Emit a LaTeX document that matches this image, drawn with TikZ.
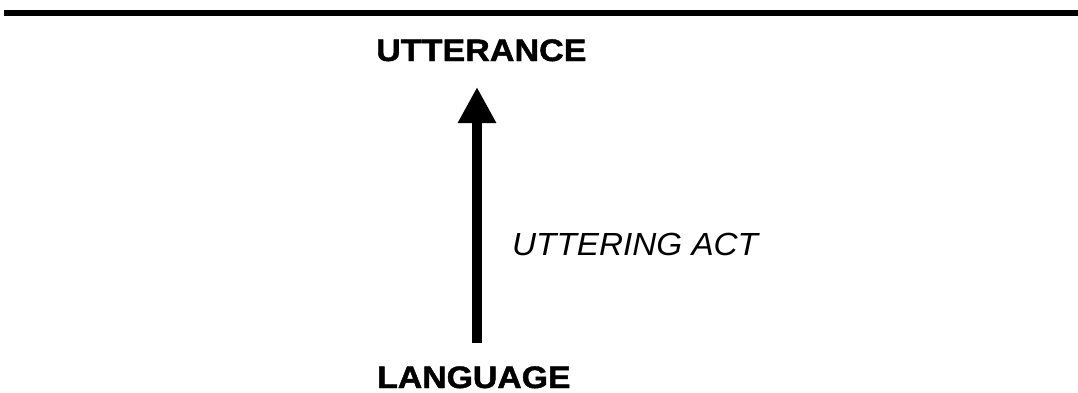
\documentclass[tikz,border=0pt]{standalone}
\usepackage{fontspec}
\setmainfont{Liberation Sans}
\newfontfamily\heavy{Liberation Sans}[BoldFeatures={FakeBold=1.4}]
\usetikzlibrary{arrows.meta}
\tikzset{
  title/.style={inner sep=0pt, anchor=base west, font=\fontsize{31}{31}\heavy\bfseries},
  actlabel/.style={inner sep=0pt, anchor=base west, font=\fontsize{32}{32}\selectfont\itshape},
  bigarrow/.style={line width=10pt, -{Triangle[width=36pt,length=36pt]}},
  rule/.style={line width=6pt}
}
\begin{document}
\begin{tikzpicture}[x=1pt,y=-1pt]
\useasboundingbox (0,0) rectangle (1078,392);
\coordinate (ruleL) at (4,13);
\coordinate (ruleR) at (1078,13);
\draw[rule] (ruleL) -- (ruleR);
\node[title] (utt) at (376,61) {\scalebox{1.1}[1]{UTTERANCE}};
\node[title] (lang) at (377,388) {\scalebox{1.09}[1]{LANGUAGE}};
\node[actlabel] (act) at (512,255) {\scalebox{1.04}[1]{UTTERING ACT}};
\coordinate (aStart) at (477,343);
\coordinate (aEnd) at (477,87);
\draw[bigarrow] (aStart) -- (aEnd);
\end{tikzpicture}
\end{document}
